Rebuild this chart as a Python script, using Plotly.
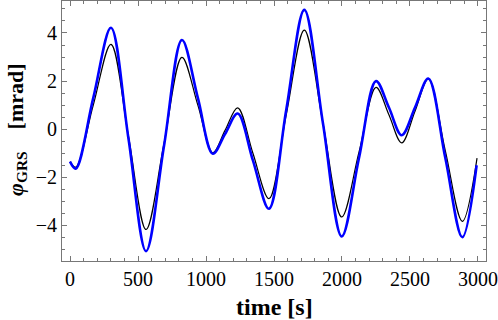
import plotly.graph_objects as go

# Blue curve
t_blue = [0, 42, 171, 301, 430, 559, 691, 823, 940, 1050, 1140, 1233, 1345, 1463,
          1590, 1723, 1860, 1998, 2125, 2250, 2345, 2439, 2537, 2635, 2760, 2885, 2990]
v_blue = [-1.35, -1.64, 1.3, 4.22, -0.4, -5.07, -0.7, 3.71, 1.3, -1.02, -0.2, 0.65, -1.3, -3.31,
          0.8, 4.96, 0.25, -4.46, -1.2, 2.0, 0.9, -0.25, 0.9, 2.11, -1.2, -4.49, -1.5]

# Black curve
t_black = [0, 42, 171, 301, 430, 559, 691, 823, 940, 1050, 1140, 1233, 1345, 1463,
           1590, 1723, 1860, 1998, 2125, 2250, 2345, 2439, 2537, 2635, 2760, 2885, 2993]
v_black = [-1.35, -1.58, 1.0, 3.53, -0.3, -4.17, -0.6, 2.99, 1.0, -0.98, -0.05, 0.89, -1.0, -2.89,
           0.6, 4.12, 0.25, -3.65, -0.95, 1.74, 0.6, -0.57, 0.75, 2.09, -0.9, -3.83, -1.2]

x_ticks = [0, 500, 1000, 1500, 2000, 2500, 3000]
y_ticks = [-4, -2, 0, 2, 4]
y_tick_text = ["\u22124", "\u22122", "0", "2", "4"]

fig = go.Figure()
fig.add_trace(go.Scatter(x=t_black, y=v_black, mode="lines",
                         line=dict(color="black", width=1.2, shape="spline", smoothing=1.0),
                         showlegend=False, hoverinfo="skip"))
fig.add_trace(go.Scatter(x=t_blue, y=v_blue, mode="lines",
                         line=dict(color="#0000ff", width=2.6, shape="spline", smoothing=1.0),
                         showlegend=False, hoverinfo="skip"))

serif = "Liberation Serif"
axis_common = dict(
    automargin=False,
    showgrid=False, zeroline=False, showline=True, linecolor="#777", linewidth=1,
    mirror="allticks", ticks="inside", ticklen=5, tickwidth=1, tickcolor="#777",
    tickfont=dict(family=serif, size=20, color="black"),
)

fig.update_xaxes(range=[-59, 3059], tickvals=x_ticks,
                 minor=dict(dtick=100, tick0=0, ticks="inside", ticklen=3, tickcolor="#777"),
                 **axis_common)
fig.update_yaxes(range=[-5.48, 5.33], tickvals=y_ticks, ticktext=y_tick_text,
                 minor=dict(dtick=0.5, tick0=0, ticks="inside", ticklen=3, tickcolor="#777"),
                 **axis_common)

fig.add_annotation(text="<b>time [s]</b>", xref="paper", yref="paper",
                   x=0.5, y=-0.175, xanchor="center", yanchor="middle", showarrow=False,
                   font=dict(family=serif, size=24, color="black"))
fig.add_annotation(text="<b><i>\u03c6</i><sub>GRS</sub>\u2002\u2002[mrad]</b>",
                   xref="paper", yref="paper", x=-0.108, y=0.505,
                   xanchor="center", yanchor="middle", textangle=-90, showarrow=False,
                   font=dict(family=serif, size=22, color="black"))

fig.update_layout(template="none", width=498, height=320,
                  margin=dict(l=62, r=12, t=1, b=59, autoexpand=False),
                  font=dict(family=serif, size=20, color="black"),
                  plot_bgcolor="white", paper_bgcolor="white")

fig.write_html("out.html", config={"displayModeBar": False},
               post_script="document.body.style.margin='0px';")
